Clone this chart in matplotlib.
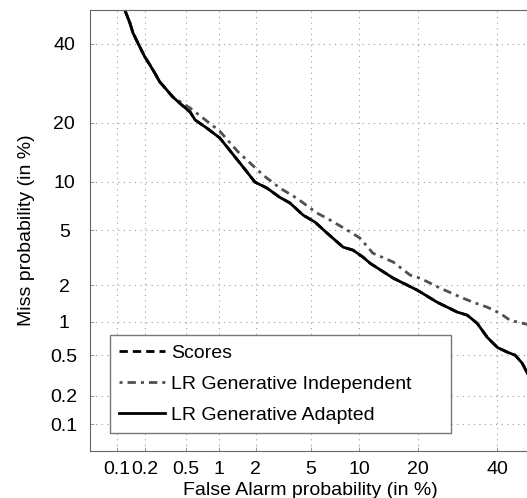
import matplotlib.pyplot as plt
import numpy as np
from statistics import NormalDist

plt.rcParams['font.family'] = ['Liberation Sans', 'DejaVu Sans']

# DET curve values (in %)
fa_adapted = [0.122, 0.138, 0.149, 0.176, 0.198, 0.223, 0.25, 0.28, 0.33, 0.377, 0.46, 0.55,
              0.61, 0.78, 1.01, 1.28, 1.58, 1.97, 2.44, 3.05, 3.6, 4.45, 5.36, 6.4, 8.05, 9.2,
              10.5, 11.5, 12.6, 15.2, 19.8, 24.2, 29.1, 31.7, 34.4, 37.2, 40.1, 43.0, 45.3,
              47.4, 48.9]
miss_adapted = [50.0, 46.2, 43.2, 39.1, 36.3, 34.1, 31.9, 29.6, 27.5, 25.8, 23.9, 22.3,
                20.6, 18.9, 17.0, 14.3, 12.1, 9.96, 9.2, 8.1, 7.5, 6.3, 5.67, 4.8, 3.84, 3.66,
                3.26, 2.94, 2.71, 2.27, 1.83, 1.46, 1.21, 1.14, 0.97, 0.73, 0.59, 0.534, 0.50,
                0.42, 0.336]

fa_indep = [0.122, 0.138, 0.149, 0.176, 0.198, 0.223, 0.25, 0.28, 0.33, 0.377, 0.55, 0.72,
            1.01, 1.44, 1.80, 2.28, 3.05, 4.04, 5.5, 6.7, 8.5, 10.1, 11.9, 15.2, 18.4, 20.4,
            24.9, 29.9, 33.3, 37.2, 40.9, 43.8, 48.9, 50.0]
miss_indep = [50.0, 46.2, 43.2, 39.1, 36.3, 34.1, 31.9, 29.6, 27.5, 25.8, 23.2, 21.0,
              18.3, 14.5, 12.7, 10.9, 9.2, 8.0, 6.5, 5.85, 5.03, 4.44, 3.48, 3.0, 2.39, 2.27,
              1.90, 1.61, 1.46, 1.33, 1.18, 1.03, 0.95, 0.93]

# scores give the same curve as the adapted LR (drawn underneath)
fa_scores = fa_adapted
miss_scores = miss_adapted

ticks = [0.1, 0.2, 0.5, 1, 2, 5, 10, 20, 40]
tick_labels = ['0.1', '0.2', '0.5', '1', '2', '5', '10', '20', '40']

nd = NormalDist()
_inv = np.vectorize(nd.inv_cdf, otypes=[float])
_cdf = np.vectorize(nd.cdf, otypes=[float])


def to_probit(p):
    p = np.clip(np.asarray(p, dtype=float) / 100.0, 1e-9, 1 - 1e-9)
    return _inv(p)


def from_probit(z):
    return _cdf(np.asarray(z, dtype=float)) * 100.0


fig = plt.figure(figsize=(5.27, 4.98), dpi=100)
ax = fig.add_axes([90 / 527, 1 - 451 / 498, 441 / 527, 441 / 498])
ax.set_xscale('function', functions=(to_probit, from_probit))
ax.set_yscale('function', functions=(to_probit, from_probit))

ax.plot(fa_scores, miss_scores, color='black', lw=2, ls=(0, (3.0, 1.8)), label='Scores')
ax.plot(fa_indep, miss_indep, color='#505050', lw=2, ls=(0, (1.1, 1.8, 3.0, 1.8)),
        label='LR Generative Independent')
ax.plot(fa_adapted, miss_adapted, color='black', lw=2, ls='-', label='LR Generative Adapted')

ax.set_xlim(0.05, 50)
ax.set_ylim(0.05, 50)
ax.set_xticks(ticks)
ax.set_xticklabels(tick_labels)
ax.set_yticks(ticks)
ax.set_yticklabels(tick_labels)
ax.minorticks_off()
ax.tick_params(axis='both', direction='in', length=3, width=0.6, color='#888888',
               labelsize=14)
ax.tick_params(axis='x', pad=7)
ax.tick_params(axis='y', pad=18.5)
for lab in ax.get_yticklabels():
    lab.set_horizontalalignment('center')

ax.grid(True, ls=(0, (1, 4)), color='#999999', lw=0.8)
for side in ['left', 'bottom', 'top']:
    ax.spines[side].set_color('#666666')
ax.spines['right'].set_visible(False)

ax.set_xlabel('False Alarm probability (in %)', fontsize=14, labelpad=3)
ax.set_ylabel('Miss probability (in %)', fontsize=14, labelpad=11)

leg = ax.legend(loc='lower left', bbox_to_anchor=(110 / 527, 1 - 433 / 498, 341 / 527, 0.1),
                bbox_transform=fig.transFigure, borderaxespad=0, mode='expand', fontsize=14,
                handlelength=2.4, labelspacing=0.7, fancybox=False, framealpha=1,
                borderpad=0.45, handletextpad=0.3)
leg.get_frame().set_edgecolor('#777777')
leg.get_frame().set_linewidth(1.0)

plt.savefig('out.png', dpi=100)
